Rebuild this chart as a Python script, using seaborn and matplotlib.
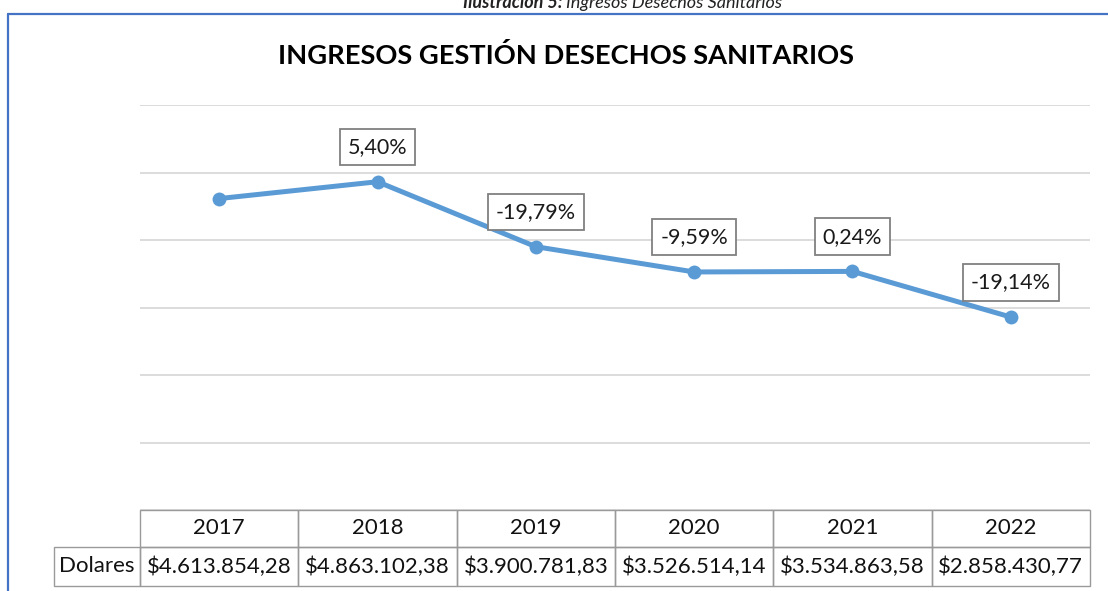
import numpy as np
import pandas as pd
import matplotlib
matplotlib.use("Agg")
import matplotlib.pyplot as plt
import seaborn as sns
from matplotlib.patches import Rectangle
from matplotlib.lines import Line2D
from matplotlib.transforms import blended_transform_factory

# datos del gráfico
years = ["2017", "2018", "2019", "2020", "2021", "2022"]
ingresos = [4613854.28, 4863102.38, 3900781.83, 3526514.14, 3534863.58, 2858430.77]
tabla_txt = ["$4.613.854,28", "$4.863.102,38", "$3.900.781,83",
             "$3.526.514,14", "$3.534.863,58", "$2.858.430,77"]
variacion = ["", "5,40%", "-19,79%", "-9,59%", "0,24%", "-19,14%"]
y_ticks = [0, 1e6, 2e6, 3e6, 4e6, 5e6, 6e6]

sns.set_style("white")
plt.rcParams["font.family"] = ["Lato", "DejaVu Sans"]

df = pd.DataFrame({"pos": np.arange(len(years)), "ingresos": ingresos})

fig = plt.figure(figsize=(11.08, 5.91), dpi=100)
ax = fig.add_axes([140 / 1108, 1 - 510 / 591, 950 / 1108, 405 / 591])

sns.lineplot(data=df, x="pos", y="ingresos", ax=ax, color="#5B9BD5",
             linewidth=3.6, marker="o", markersize=10, markeredgewidth=0)

ax.set_xlim(-0.5, len(years) - 0.5)
ax.set_ylim(y_ticks[0], y_ticks[-1])
ax.set_yticks(y_ticks)
ax.yaxis.grid(True, color="#D9D9D9", linewidth=1.3)
ax.set_axisbelow(True)
ax.set_xticks([])
ax.set_yticklabels([])
ax.tick_params(left=False, bottom=False)
ax.set_xlabel("")
ax.set_ylabel("")
sns.despine(ax=ax, left=True, bottom=True)

# etiquetas de variación
for i, lab in enumerate(variacion):
    if lab:
        ax.annotate(lab, (i, ingresos[i]), xytext=(0, 25), textcoords="offset points",
                    ha="center", va="center", fontsize=15.5, color="#1a1a1a",
                    bbox=dict(boxstyle="square,pad=0.38", fc="white", ec="#808080", lw=1.3))

# tabla de datos debajo del eje
tr = blended_transform_factory(ax.transData, ax.transAxes)
h1 = 37 / 405
h2 = 76 / 405
edge = "#9A9A9A"
fs_tab = 16
for i, (yr, val) in enumerate(zip(years, tabla_txt)):
    ax.add_patch(Rectangle((i - 0.5, -h1), 1, h1, transform=tr, fill=False,
                           ec=edge, lw=1, clip_on=False))
    ax.add_patch(Rectangle((i - 0.5, -h2), 1, h2 - h1, transform=tr, fill=False,
                           ec=edge, lw=1, clip_on=False))
    ax.text(i, -h1 / 2, yr, transform=tr, ha="center", va="center", fontsize=fs_tab, color="#111111")
    ax.text(i, -(h1 + h2) / 2, val, transform=tr, ha="center", va="center", fontsize=fs_tab,
            color="#111111")
lab_w = 86 / 158
ax.add_patch(Rectangle((-0.5 - lab_w, -h2), lab_w, h2 - h1, transform=tr, fill=False,
                       ec=edge, lw=1, clip_on=False))
ax.text(-0.5 - lab_w / 2, -(h1 + h2) / 2, "Dolares", transform=tr, ha="center", va="center",
        fontsize=fs_tab, color="#111111")

# título y leyenda de ilustración
fig.text(0.511, 1 - 55 / 591, "INGRESOS GESTIÓN DESECHOS SANITARIOS", ha="center",
         va="center", fontsize=19.6, fontweight="bold", color="black")
fig.text(0.508, 1 - 8 / 591, "Ilustración 5:", ha="right", va="baseline", fontsize=13,
         fontweight="bold", fontstyle="italic", color="#222222")
fig.text(0.511, 1 - 8 / 591, "Ingresos Desechos Sanitarios", ha="left", va="baseline",
         fontsize=13, fontstyle="italic", color="#222222")

# marco del gráfico
fig.add_artist(Line2D([8 / 1108, 8 / 1108], [0, 1 - 14 / 591], color="#4472C4", lw=1.6))
fig.add_artist(Line2D([8 / 1108, 1], [1 - 14 / 591, 1 - 14 / 591], color="#4472C4", lw=1.6))

fig.savefig("out.png", dpi=100)
